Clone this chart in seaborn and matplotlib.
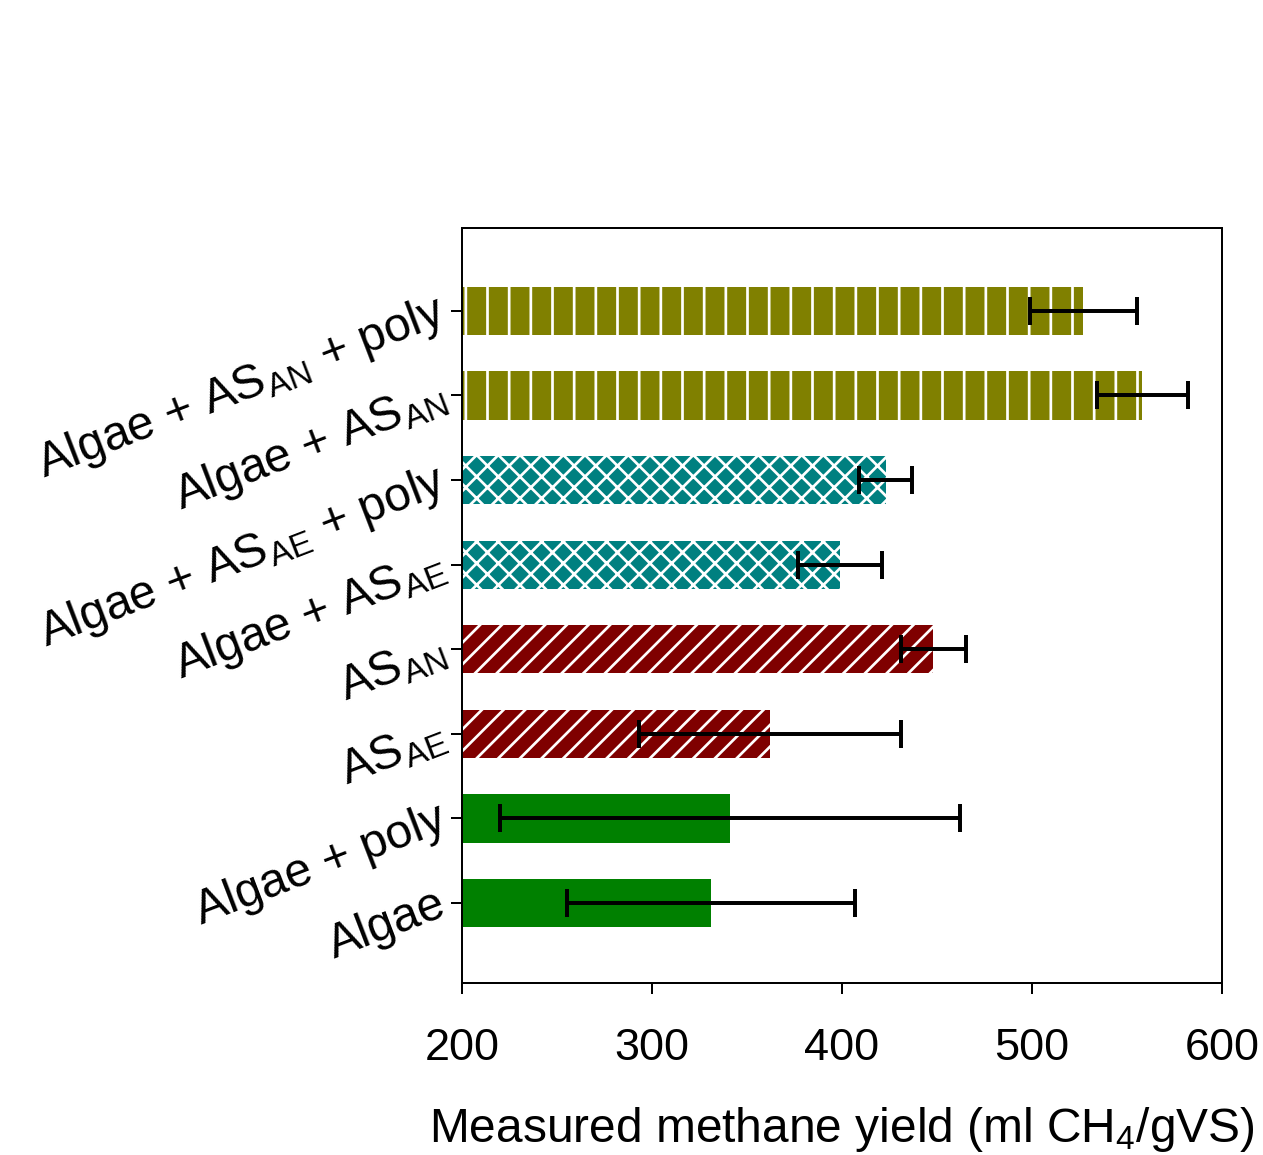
import matplotlib
matplotlib.use("Agg")
import matplotlib.pyplot as plt
import seaborn as sns
import pandas as pd
import numpy as np

categories = [r"Algae + AS$_{\mathrm{AN}}$ + poly", r"Algae + AS$_{\mathrm{AN}}$",
              r"Algae + AS$_{\mathrm{AE}}$ + poly", r"Algae + AS$_{\mathrm{AE}}$",
              r"AS$_{\mathrm{AN}}$", r"AS$_{\mathrm{AE}}$", "Algae + poly", "Algae"]
yields = [527, 558, 423, 399, 448, 362, 341, 331]
errors = [28, 24, 14, 22, 17, 69, 121, 76]
colors = ["#808000", "#808000", "#008080", "#008080", "#7f0000", "#7f0000", "#008000", "#008000"]
hatches = ["|", "|", "xx", "xx", "//", "//", "", ""]
x_ticks = [200, 300, 400, 500, 600]

sns.set_theme(style="ticks")
plt.rcParams["font.family"] = ["Liberation Sans", "DejaVu Sans"]
plt.rcParams["mathtext.fontset"] = "custom"
plt.rcParams["mathtext.rm"] = "Liberation Sans"
plt.rcParams["mathtext.it"] = "Liberation Sans:italic"
plt.rcParams["hatch.linewidth"] = 1.5
for k in ["text.color", "axes.labelcolor", "xtick.color", "ytick.color", "axes.edgecolor"]:
    plt.rcParams[k] = "black"

DPI = 130
fig = plt.figure(figsize=(1263 / DPI, 1155 / DPI), dpi=DPI)
ax = fig.add_axes([462 / 1263, 1 - 983 / 1155, 760 / 1263, 755 / 1155])

df = pd.DataFrame({"cat": categories, "val": yields})
sns.barplot(data=df, x="val", y="cat", hue="cat", palette=colors, order=categories,
            width=0.57, legend=False, ax=ax, errorbar=None, saturation=1,
            linewidth=0, edgecolor="white")

for p, h in zip(ax.patches, hatches):
    p.set_hatch(h)
    p.set_edgecolor("white")
    p.set_linewidth(0)

ypos = np.arange(len(categories))
ax.errorbar(yields, ypos, xerr=errors, fmt="none", ecolor="black", elinewidth=2.2,
            capsize=8, capthick=2.2, zorder=5)

ax.set_xlim(200, 600)
ax.set_ylim(len(categories) - 1 + 0.946, -0.98)
ax.set_xticks(x_ticks)
ax.set_xticklabels([str(t) for t in x_ticks], fontsize=25)
ax.set_yticks(ypos)
ax.set_yticklabels(categories, fontsize=26.5, rotation=21, ha="right", va="center",
                   rotation_mode="anchor")
ax.set_ylabel("")
ax.set_xlabel(r"Measured methane yield (ml CH$_4$/gVS)", fontsize=26.5, labelpad=20)
ax.tick_params(axis="x", length=6, width=1.1, pad=19)
ax.tick_params(axis="y", length=6, width=1.1, pad=4)
for s in ax.spines.values():
    s.set_visible(True)
    s.set_linewidth(1.1)

fig.savefig("out.png", dpi=DPI)
